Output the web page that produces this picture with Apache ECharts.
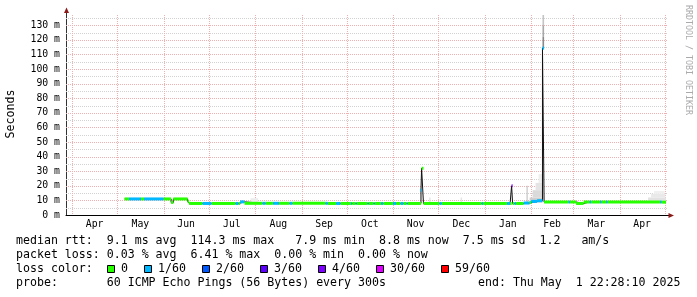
<!DOCTYPE html>
<html><head><meta charset="utf-8">
<script src="https://cdn.jsdelivr.net/npm/echarts@6/dist/echarts.min.js"></script>
<style>html,body{margin:0;padding:0;background:#fff}#c{width:697px;height:297px}</style>
</head><body><div id="c"></div>
<script>
// ---------- data ----------
const endTime = '2025-05-01 22:28:10';
const spanDays = 400;
const yTicks = [10, 20, 30, 40, 50, 60, 70, 80, 90, 100, 110, 120, 130];
const yLabelTicks = [0, 10, 20, 30, 40, 50, 60, 70, 80, 90, 100, 110, 120, 130];
const yMinorTicks = [5, 15, 25, 35, 45, 55, 65, 75, 85, 95, 105, 115, 125, 135];
const yMax = 137;
const monthStarts = ['2024-04-01','2024-05-01','2024-06-01','2024-07-01','2024-08-01','2024-09-01','2024-10-01',
  '2024-11-01','2024-12-01','2025-01-01','2025-02-01','2025-03-01','2025-04-01','2025-05-01'];
const monthLabels = ['Apr','May','Jun','Jul','Aug','Sep','Oct','Nov','Dec','Jan','Feb','Mar','Apr'];

const lossColors = ['#26ff00','#00b8ff','#0059ff','#5e00ff','#7e00ff','#dd00ff','#ff0000'];
const lossLabels = ['0','1/60','2/60','3/60','4/60','30/60','59/60'];

// median rtt (ms), each entry lasts until the next start
const medianTimes = [
 '2024-05-06','2024-05-09','2024-05-17','2024-05-19','2024-06-01','2024-06-06','2024-06-07 12:00','2024-06-17','2024-06-18',
 '2024-06-27','2024-07-03','2024-07-19','2024-07-21','2024-07-22','2024-07-25','2024-08-06','2024-08-08','2024-08-13',
 '2024-08-17','2024-08-24','2024-08-26','2024-09-17','2024-09-18 12:00','2024-09-24','2024-09-27','2024-10-04','2024-10-04 18:00',
 '2024-10-07','2024-10-07 18:00','2024-10-15','2024-10-15 18:00','2024-10-19','2024-10-19 18:00','2024-10-24','2024-10-25 12:00',
 '2024-11-01','2024-11-03','2024-11-06','2024-11-08','2024-11-10','2024-11-10 18:00','2024-11-19 14:00','2024-11-20','2024-11-21 06:00',
 '2024-12-02','2024-12-03 12:00','2024-12-30','2024-12-31','2025-01-16','2025-01-18','2025-01-19','2025-01-19 16:00','2025-01-21',
 '2025-01-22','2025-01-27','2025-01-31','2025-02-01','2025-02-05','2025-02-08 14:00','2025-02-09 16:00','2025-02-26','2025-02-27',
 '2025-03-03','2025-03-08','2025-03-12','2025-03-13','2025-03-19','2025-03-20','2025-03-23','2025-03-24','2025-04-28','2025-04-29'];
const medianValues = [
 11.0,11.0,11.0,11.0,11.0,8.6,11.0,9.4,7.9,
 7.9,7.9,7.9,7.9,9.0,8.0,8.0,8.0,8.0,
 8.0,8.0,8.0,8.0,7.9,7.9,7.9,7.9,7.9,
 7.9,7.9,7.9,7.9,7.9,7.9,7.9,7.9,
 7.9,7.9,7.9,7.9,7.9,7.9,17.0,32.0,7.9,
 7.9,7.9,7.9,7.9,7.9,7.9,20.0,7.9,7.9,
 7.9,8.2,8.6,9.3,9.8,114.3,8.9,8.9,8.9,
 7.9,8.9,8.9,8.9,8.9,8.9,8.9,8.9,8.9,8.8];
const medianLoss = [
 0,1,0,1,0,0,0,0,0,
 1,0,1,0,1,0,1,0,1,
 0,1,0,1,0,1,0,1,0,
 1,0,1,0,1,0,1,0,
 1,0,1,0,1,0,1,0,0,
 1,0,1,0,1,0,4,0,1,
 0,1,0,1,1,1,0,1,0,
 0,0,1,0,1,0,1,0,1,0];

// smoke (ping spread)
const smokeStart = ['2024-07-29','2024-11-25','2024-12-16','2025-01-29','2025-01-31','2025-02-02','2025-02-04','2025-02-06',
  '2025-02-08 14:00','2025-02-08 14:00','2025-02-08 14:00','2025-04-20','2025-04-22','2025-04-24'];
const smokeEnd = ['2024-08-03','2024-11-26','2024-12-17','2025-01-29 16:00','2025-02-08 14:00','2025-02-08 14:00','2025-02-08 14:00','2025-02-08 14:00',
  '2025-02-09 16:00','2025-02-09 16:00','2025-02-09 16:00','2025-05-01 22:28','2025-05-01 12:00','2025-05-01'];
const smokeLow  = [8.5, 8.5, 8.5, 8.5, 8.5, 12, 17, 22, 114.3, 122, 130, 9, 12, 14.5];
const smokeHigh = [11.5, 12, 12, 20, 12, 17, 22, 28, 122, 130, 137, 12, 14.5, 16.5];
const smokeShade = ['#ececec','#e4e4e4','#e4e4e4','#b8b8b8','#cfcfcf','#dadada','#e4e4e4','#eeeeee',
  '#8a8a8a','#a8a8a8','#c4c4c4','#e2e2e2','#e9e9e9','#f0f0f0'];

const statLines = [
 'median rtt:  9.1 ms avg  114.3 ms max   7.9 ms min  8.8 ms now  7.5 ms sd  1.2   am/s',
 'packet loss: 0.03 % avg  6.41 % max  0.00 % min  0.00 % now',
 'loss color:',
 'probe:       60 ICMP Echo Pings (56 Bytes) every 300s'
];
const endLabel = 'end: Thu May  1 22:28:10 2025';
const yTitle = 'Seconds';
const watermark = 'RRDTOOL / TOBI OETIKER';

// ---------- build ----------
function T(s) {
  const parts = s.split(' ');
  const d = parts[0].split('-').map(Number);
  const tm = (parts[1] || '00:00:00').split(':').map(Number);
  return Date.UTC(d[0], d[1] - 1, d[2], tm[0] || 0, tm[1] || 0, tm[2] || 0);
}
const endTs = T(endTime);
const startTs = endTs - spanDays * 86400000;

const medianData = medianTimes.map((s, i) => [T(s), i + 1 < medianTimes.length ? T(medianTimes[i + 1]) : endTs, medianValues[i], medianLoss[i]]);
const blackLine = [];
medianData.forEach(d => { blackLine.push([d[0], d[2]]); blackLine.push([d[1], d[2]]); });
const smokeData = smokeStart.map((s, i) => [T(s), T(smokeEnd[i]), smokeLow[i], smokeHigh[i], i]);
const hGridData = yTicks.map(v => [v, 0]).concat(yMinorTicks.map(v => [v, 1]));
const vGridData = monthStarts.map(s => [T(s)]);
const monthData = monthLabels.map((m, i) => [T(monthStarts[i]), T(monthStarts[i + 1]), i]);

const MONO = '"DejaVu Sans Mono", monospace';
const legendFont = '11.6px ' + MONO;
const axisFont = '9.8px ' + MONO;
const CH = 7.0;
const lineY = [241, 255, 269, 283];

const graphics = [];
statLines.forEach((t, i) => graphics.push({type: 'text', x: 16, y: lineY[i], silent: true,
  style: {text: t, font: legendFont, fill: '#000', align: 'left', verticalAlign: 'middle'}}));
graphics.push({type: 'text', x: 478, y: lineY[3], silent: true,
  style: {text: endLabel, font: legendFont, fill: '#000', align: 'left', verticalAlign: 'middle'}});
let bx = 16 + 13 * CH;
lossLabels.forEach((lab, i) => {
  graphics.push({type: 'rect', silent: true, shape: {x: Math.round(bx) + 0.5, y: 265.5, width: 7, height: 7},
    style: {fill: lossColors[i], stroke: '#000', lineWidth: 1}});
  graphics.push({type: 'text', x: bx + 14, y: lineY[2], silent: true,
    style: {text: lab, font: legendFont, fill: '#000', align: 'left', verticalAlign: 'middle'}});
  bx = bx + 14 + lab.length * CH + 16;
});
graphics.push({type: 'text', x: 11, y: 114, rotation: Math.PI / 2, silent: true,
  style: {text: yTitle, font: legendFont, fill: '#000', align: 'center', verticalAlign: 'middle'}});
graphics.push({type: 'text', x: 688, y: 5, rotation: -Math.PI / 2, silent: true,
  style: {text: watermark, font: '8.3px ' + MONO, fill: '#aaaaaa', align: 'left', verticalAlign: 'middle'}});
// axis extensions and arrows
graphics.push({type: 'line', silent: true, shape: {x1: 66.5, y1: 15, x2: 66.5, y2: 11}, style: {stroke: '#333', lineWidth: 1}});
graphics.push({type: 'polygon', silent: true, shape: {points: [[66.5, 7.5], [64, 13], [69, 13]]}, style: {fill: '#8b1a1a'}});
graphics.push({type: 'line', silent: true, shape: {x1: 666, y1: 215.5, x2: 670, y2: 215.5}, style: {stroke: '#000', lineWidth: 1}});
graphics.push({type: 'polygon', silent: true, shape: {points: [[674, 215.5], [668.5, 213], [668.5, 218]]}, style: {fill: '#8b1a1a'}});

const chart = echarts.init(document.getElementById('c'), null, {renderer: 'canvas', width: 697, height: 297});
chart.setOption({
  animation: false,
  backgroundColor: '#ffffff',
  grid: {left: 66, right: 31, top: 15, bottom: 82, containLabel: false, outerBoundsMode: 'none'},
  xAxis: {type: 'time', min: startTs, max: endTs,
    axisLabel: {show: false}, axisTick: {show: false}, splitLine: {show: false},
    axisLine: {show: true, lineStyle: {color: '#000', width: 1}}},
  yAxis: {type: 'value', min: 0, max: yMax, interval: 10,
    axisLabel: {formatter: v => (yLabelTicks.indexOf(v) >= 0 ? v + ' m' : ''), fontFamily: MONO, fontSize: 9.8, color: '#000', margin: 6},
    splitLine: {show: false}, axisTick: {show: false},
    axisLine: {show: true, lineStyle: {color: '#333', width: 1}}},
  graphic: graphics,
  series: [
    {type: 'custom', z: 1, silent: true, data: hGridData, encode: {y: 0},
      renderItem(params, api) {
        const cs = params.coordSys;
        const y = Math.round(api.coord([startTs, api.value(0)])[1]) + 0.5;
        const minor = api.value(1) === 1;
        return {type: 'line', shape: {x1: cs.x, y1: y, x2: cs.x + cs.width + 2, y2: y},
          style: {stroke: minor ? '#d2d2d2' : '#eeb0b0', lineWidth: 1, lineDash: [1, 1]}};
      }},
    {type: 'custom', z: 1, silent: true, data: vGridData, encode: {x: 0},
      renderItem(params, api) {
        const cs = params.coordSys;
        const x = Math.round(api.coord([api.value(0), 0])[0]) + 0.5;
        return {type: 'line', shape: {x1: x, y1: cs.y, x2: x, y2: cs.y + cs.height},
          style: {stroke: '#eeb0b0', lineWidth: 1, lineDash: [1, 1]}};
      }},
    {type: 'custom', z: 2, silent: true, data: smokeData, encode: {x: [0, 1], y: [2, 3]},
      renderItem(params, api) {
        const p0 = api.coord([api.value(0), api.value(3)]);
        const p1 = api.coord([api.value(1), api.value(2)]);
        return {type: 'rect', shape: {x: p0[0], y: p0[1], width: Math.max(1, p1[0] - p0[0]), height: p1[1] - p0[1]},
          style: {fill: smokeShade[api.value(4)]}};
      }},
    {type: 'line', z: 3, silent: true, data: blackLine, showSymbol: false, symbol: 'none',
      lineStyle: {color: '#111', width: 1}, connectNulls: false},
    {type: 'custom', z: 4, silent: true, data: medianData, encode: {x: [0, 1], y: 2},
      renderItem(params, api) {
        const p0 = api.coord([api.value(0), api.value(2)]);
        const p1 = api.coord([api.value(1), api.value(2)]);
        return {type: 'rect', shape: {x: p0[0], y: p0[1] - 1.5, width: Math.max(1, p1[0] - p0[0]), height: 3},
          style: {fill: lossColors[api.value(3)]}};
      }},
    {type: 'custom', z: 5, silent: true, clip: false, data: monthData, encode: {x: [0, 1]},
      renderItem(params, api) {
        const cs = params.coordSys;
        const a = api.coord([api.value(0), 0])[0];
        const b = api.coord([api.value(1), 0])[0];
        return {type: 'text', x: (a + b) / 2, y: cs.y + cs.height + 9.5,
          style: {text: monthLabels[api.value(2)], font: axisFont, fill: '#000', align: 'center', verticalAlign: 'middle'}};
      }}
  ]
});
</script>
</body></html>
